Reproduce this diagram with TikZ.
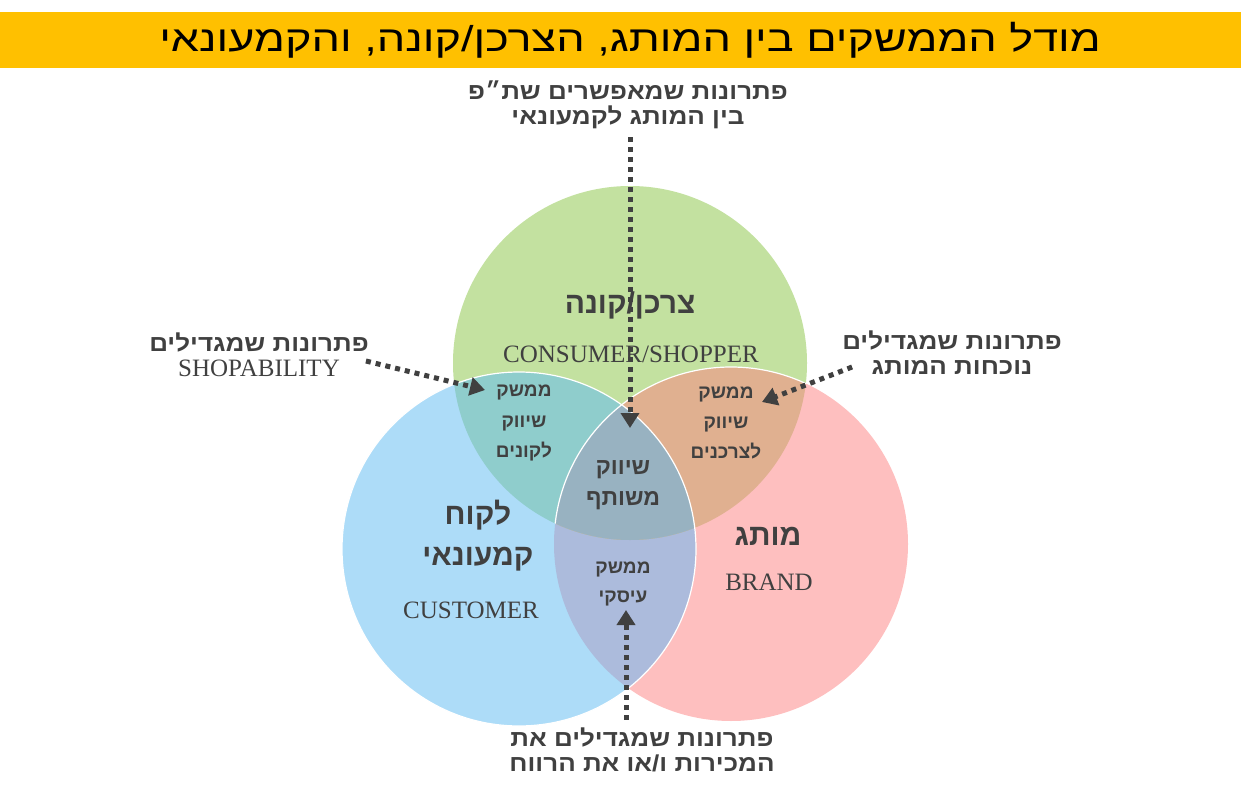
\documentclass[tikz,border=0pt]{standalone}
\usepackage{fontspec}
\setmainfont{Liberation Serif}
\newfontfamily\hebfont[Script=Hebrew]{Liberation Sans}
\newfontfamily\hebwide[Script=Hebrew,FakeStretch=1.13]{Liberation Sans}
\newfontfamily\hebtitle[Script=Hebrew,FakeStretch=1.25]{Liberation Sans}
\TeXXeTstate=1
\usetikzlibrary{arrows.meta,positioning,calc}
\definecolor{barYellow}{HTML}{FFC000}
\definecolor{txtGray}{HTML}{404040}
\definecolor{cGreen}{RGB}{195,225,160}
\definecolor{cBlue}{RGB}{173,220,248}
\definecolor{cPink}{RGB}{254,191,191}
\definecolor{cTeal}{RGB}{143,205,204}
\definecolor{cTan}{RGB}{224,176,144}
\definecolor{cMid}{RGB}{152,178,193}
\definecolor{cLav}{RGB}{172,187,220}
\newcommand{\heb}[1]{\beginR #1\endR}

\begin{document}
\begin{tikzpicture}[x=1pt,y=-1pt]
\tikzset{hebtxt/.style={text=txtGray, font=\hebfont\bfseries\fontsize{22}{25}\selectfont, align=center, inner sep=0pt}}
\tikzset{outtxt/.style={hebtxt, font=\hebwide\bfseries\fontsize{23}{25}\selectfont}}
\tikzset{entxt/.style={text=txtGray, font=\fontsize{25}{28}\selectfont, inner sep=0pt}}
\tikzset{hint/.style={draw=txtGray, line width=5pt, dash pattern=on 5pt off 5pt, -{Triangle[length=15pt,width=18pt]}}}
\useasboundingbox (0,0) rectangle (1244,799);

% title
\fill[barYellow] (0,12) rectangle (1241,68);
\node[text=black, font=\hebtitle\fontsize{36}{40}\selectfont] (title) at (630,40) {\heb{מודל הממשקים בין המותג, הצרכן/קונה, והקמעונאי}};

% circles
\coordinate (gC) at (630,363);
\coordinate (bC) at (519,549);
\coordinate (pC) at (731,544);
\fill[cGreen] (gC) circle (177pt);
\fill[cPink] (pC) circle (177pt);
\fill[cBlue] (bC) circle (177pt);
\begin{scope}
\clip (bC) circle (177pt);
\fill[cLav] (pC) circle (177pt);
\end{scope}
\begin{scope}
\clip (gC) circle (177pt);
\fill[cTeal] (bC) circle (177pt);
\fill[cTan] (pC) circle (177pt);
\clip (bC) circle (177pt);
\fill[cMid] (pC) circle (177pt);
\end{scope}
\draw[white, line width=1.2pt] (bC) circle (177pt);
\begin{scope}
\clip (gC) circle (177pt);
\draw[white, line width=1.2pt] (pC) circle (177pt);
\end{scope}

% circle texts
\node[hebtxt, font=\hebfont\bfseries\fontsize{30}{34}\selectfont] (cons) at (630,305) {\heb{צרכן/קונה}};
\node[entxt] (consEn) at (631,354) {CONSUMER/SHOPPER};
\node[hebtxt, font=\hebfont\bfseries\fontsize{30}{41}\selectfont] (cust) at (478,536) {\heb{לקוח}\\\heb{קמעונאי}};
\node[entxt] (custEn) at (471,610) {CUSTOMER};
\node[hebtxt, font=\hebfont\bfseries\fontsize{30}{34}\selectfont] (brand) at (768,536) {\heb{מותג}};
\node[entxt] (brandEn) at (769,582) {BRAND};
\node[hebtxt, font=\hebfont\bfseries\fontsize{19}{30}\selectfont] (shopIf) at (524,423) {\heb{ממשק}\\\heb{שיווק}\\\heb{לקונים}};
\node[hebtxt, font=\hebfont\bfseries\fontsize{19}{30}\selectfont] (consIf) at (726,423) {\heb{ממשק}\\\heb{שיווק}\\\heb{לצרכנים}};
\node[hebtxt, font=\hebfont\bfseries\fontsize{23}{31}\selectfont] (joint) at (623,485) {\heb{שיווק}\\\heb{משותף}};
\node[hebtxt, font=\hebfont\bfseries\fontsize{19}{29}\selectfont] (bizIf) at (623,584) {\heb{ממשק}\\\heb{עיסקי}};

% outside labels
\node[outtxt] (coopLbl) at (628,105) {\heb{פתרונות שמאפשרים שת״פ}\\\heb{בין המותג לקמעונאי}};
\node[outtxt] (shopLbl) at (259,355) {\heb{פתרונות שמגדילים}\\{\normalfont\fontsize{25}{25}\selectfont SHOPABILITY}};
\node[outtxt] (presLbl) at (952,353) {\heb{פתרונות שמגדילים}\\\heb{נוכחות המותג}};
\node[outtxt] (salesLbl) at (642,750) {\heb{פתרונות שמגדילים את}\\\heb{המכירות ו/או את הרווח}};

% arrows
\coordinate (coopT) at (630,428);
\coordinate (shopT) at (485,390);
\coordinate (presT) at (762,402);
\coordinate (salesT) at (626,610);
\draw[hint] (coopLbl.south -| coopT) ++(0,8) -- (coopT);
\draw[hint] ([xshift=-3pt,yshift=-6pt]shopLbl.east) -- (shopT);
\draw[hint] ([xshift=10pt,yshift=-14pt]presLbl.west) -- (presT);
\draw[hint] ([yshift=8pt]salesLbl.north -| salesT) -- (salesT);
\end{tikzpicture}
\end{document}
